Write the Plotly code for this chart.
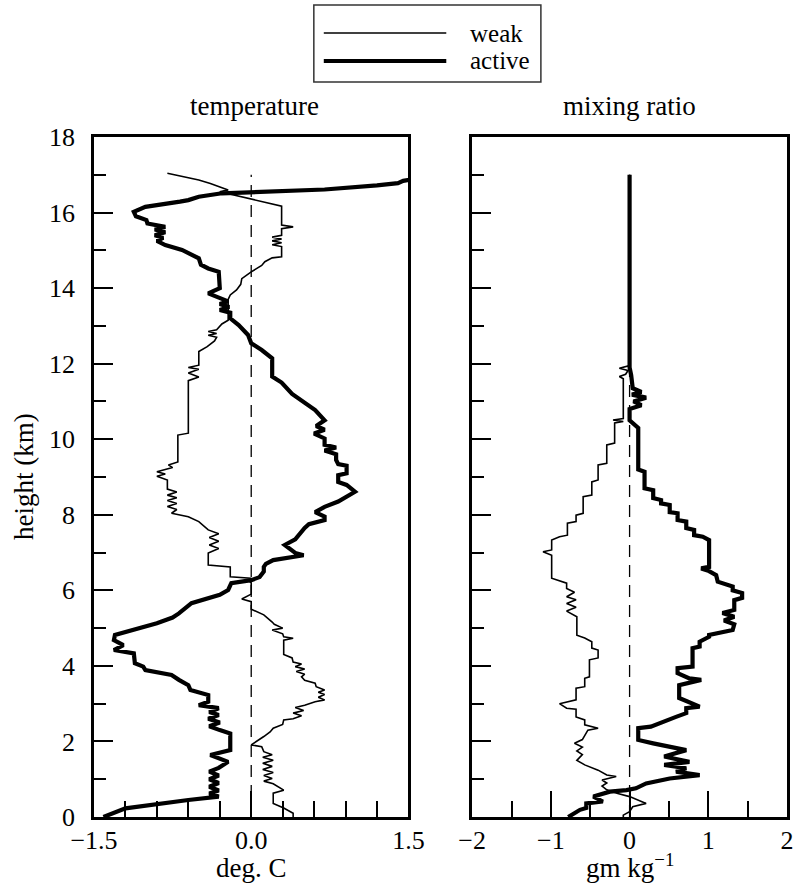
import plotly.graph_objects as go

# ---------------- data ----------------
weak_T_h = [17.04, 16.86, 16.77, 16.68, 16.60, 16.55, 16.38, 16.29, 16.17, 15.67, 15.62, 15.57, 15.40, 15.35, 15.30,
            15.25, 15.20, 15.15, 15.10, 14.83, 14.80, 14.70, 14.60, 14.43, 14.25, 14.10, 13.95, 13.82, 13.70, 13.15,
            13.05, 12.90, 12.85, 12.80, 12.75, 12.70, 12.60, 12.45, 12.32, 12.27, 11.96, 11.90, 11.85, 11.75, 11.65,
            11.55, 11.48, 10.16, 10.11, 9.40, 9.32, 9.25, 9.14, 9.08, 9.02, 8.92, 8.80, 8.68, 8.60, 8.52, 8.45, 8.38,
            8.30, 8.22, 8.14, 8.04, 7.95, 7.82, 7.60, 7.50, 7.40, 7.30, 7.20, 7.11, 6.99, 6.67, 6.62, 6.36, 6.32, 6.27,
            6.20, 5.90, 5.77, 5.70, 5.50, 5.35, 5.16, 5.10, 5.00, 4.95, 4.85, 4.77, 4.73, 4.68, 4.30, 4.21, 4.10, 4.05,
            3.98, 3.92, 3.85, 3.78, 3.71, 3.62, 3.54, 3.45, 3.36, 3.30, 3.24, 3.17, 3.10, 3.05, 2.96, 2.90, 2.82, 2.75,
            2.68, 2.60, 2.57, 2.45, 2.35, 2.25, 2.13, 1.91, 1.86, 1.73, 1.65, 1.58, 1.50, 1.42, 1.34, 1.26, 1.18, 1.10,
            1.02, 0.95, 0.88, 0.71, 0.63, 0.36, 0.24, 0.10, 0.00]
weak_T = [-0.80, -0.50, -0.39, -0.30, -0.22, -0.30, -0.03, 0.10, 0.29, 0.29, 0.40, 0.29, 0.29, 0.20, 0.29,
          0.20, 0.29, 0.20, 0.29, 0.29, 0.20, 0.13, 0.10, 0.00, -0.09, -0.10, -0.14, -0.20, -0.22, -0.22,
          -0.28, -0.33, -0.41, -0.33, -0.41, -0.33, -0.35, -0.42, -0.50, -0.50, -0.50, -0.60, -0.50, -0.60, -0.50,
          -0.60, -0.60, -0.60, -0.70, -0.70, -0.79, -0.75, -0.90, -0.82, -0.90, -0.80, -0.80, -0.80, -0.71, -0.80, -0.71, -0.80,
          -0.71, -0.80, -0.71, -0.76, -0.60, -0.50, -0.41, -0.31, -0.40, -0.31, -0.40, -0.31, -0.41, -0.41, -0.20, -0.20, 0.00, -0.03,
          0.00, 0.00, -0.09, 0.00, 0.00, 0.12, 0.20, 0.22, 0.30, 0.20, 0.30, 0.31, 0.40, 0.31, 0.31, 0.39, 0.40, 0.48,
          0.42, 0.51, 0.43, 0.51, 0.48, 0.51, 0.61, 0.62, 0.70, 0.64, 0.70, 0.64, 0.70, 0.61, 0.51, 0.42, 0.50, 0.40,
          0.48, 0.40, 0.31, 0.30, 0.21, 0.18, 0.12, 0.00, 0.10, 0.12, 0.20, 0.11, 0.21, 0.11, 0.20, 0.11, 0.21, 0.12,
          0.20, 0.12, 0.21, 0.31, 0.21, 0.21, 0.31, 0.40, 0.40]

active_T_h = [16.90, 16.84, 16.78, 16.72, 16.61, 16.55, 16.51, 16.42, 16.33, 16.29, 16.15, 16.02, 15.90, 15.80, 15.71,
              15.62, 15.55, 15.48, 15.40, 15.33, 15.25, 15.14, 15.01, 14.90, 14.79, 14.62, 14.52, 14.43, 14.00, 13.86,
              13.75, 13.65, 13.58, 13.50, 13.42, 13.35, 13.20, 13.02, 12.76, 12.54, 12.36, 12.14, 11.66, 11.50, 11.20,
              10.95, 10.77, 10.50, 10.35, 10.25, 10.15, 10.02, 9.85, 9.78, 9.70, 9.60, 9.45, 9.34, 9.30, 9.10, 9.05,
              8.87, 8.79, 8.61, 8.48, 8.35, 8.21, 8.07, 7.95, 7.86, 7.75, 7.65, 7.35, 7.20, 6.99, 6.93, 6.80, 6.70,
              6.62, 6.50, 6.35, 6.27, 6.19, 6.01, 5.88, 5.66, 5.39, 5.28, 5.13, 4.95, 4.82, 4.68, 4.55, 4.42, 4.33,
              4.07, 3.98, 3.89, 3.76, 3.63, 3.49, 3.36, 3.23, 3.05, 2.96, 2.88, 2.78, 2.70, 2.60, 2.50, 2.40, 2.30,
              2.21, 1.77, 1.64, 1.46, 1.30, 1.20, 1.10, 1.00, 0.90, 0.80, 0.70, 0.62, 0.54, 0.45, 0.36, 0.23, 0.00]
active_T = [1.60, 1.45, 1.40, 1.20, 0.70, 0.07, -0.28, -0.50, -0.60, -0.68, -1.01, -1.12, -1.10, -1.00, -0.99,
            -0.82, -0.92, -0.82, -0.92, -0.84, -0.90, -0.82, -0.66, -0.58, -0.50, -0.48, -0.41, -0.31, -0.30, -0.41,
            -0.30, -0.22, -0.30, -0.21, -0.30, -0.20, -0.20, -0.12, -0.03, 0.00, 0.10, 0.20, 0.20, 0.29, 0.39,
            0.51, 0.61, 0.70, 0.62, 0.70, 0.60, 0.70, 0.70, 0.81, 0.70, 0.81, 0.81, 0.83, 0.91, 0.91, 0.83,
            0.83, 0.91, 0.99, 0.91, 0.83, 0.70, 0.61, 0.70, 0.70, 0.55, 0.51, 0.42, 0.32, 0.42, 0.50, 0.21, 0.14,
            0.12, 0.12, 0.08, 0.00, -0.19, -0.22, -0.30, -0.57, -0.69, -0.75, -0.90, -1.14, -1.30, -1.31, -1.22, -1.31, -1.12,
            -1.11, -1.03, -1.01, -0.76, -0.69, -0.60, -0.58, -0.41, -0.41, -0.50, -0.31, -0.40, -0.31, -0.41, -0.30, -0.40, -0.30,
            -0.20, -0.20, -0.39, -0.22, -0.31, -0.40, -0.31, -0.40, -0.31, -0.40, -0.31, -0.40, -0.31, -0.60, -0.88, -1.20, -1.41]

weak_q_h = [17.00, 12.00, 11.95, 11.88, 11.82, 11.72, 11.66, 11.60, 10.55, 10.51, 10.47, 10.43, 9.90, 9.85, 9.36,
            9.32, 8.92, 8.87, 8.52, 8.48, 8.04, 7.99, 7.82, 7.78, 7.46, 7.42, 7.33, 7.07, 7.02, 6.93, 6.32, 6.19,
            6.05, 5.95, 5.83, 5.75, 5.65, 5.55, 5.45, 5.30, 4.81, 4.74, 4.64, 4.47, 4.42, 4.21, 4.16, 3.71, 3.67,
            3.45, 3.41, 3.10, 3.00, 2.88, 2.85, 2.65, 2.57, 2.44, 2.35, 2.30, 2.17, 2.05, 1.95, 1.85, 1.75, 1.65,
            1.50, 1.38, 1.24, 1.11, 1.07, 0.98, 0.90, 0.82, 0.72, 0.62, 0.54, 0.36, 0.27, 0.14, 0.05, 0.00]
weak_q = [0.00, 0.00, 0.00, -0.13, -0.02, -0.05, -0.13, -0.08, -0.08, -0.21, -0.08, -0.19, -0.19, -0.29, -0.29,
          -0.40, -0.40, -0.48, -0.48, -0.59, -0.59, -0.68, -0.68, -0.79, -0.79, -0.89, -0.99, -0.99, -1.10, -0.99, -0.99, -0.80,
          -0.80, -0.70, -0.80, -0.68, -0.80, -0.68, -0.80, -0.67, -0.67, -0.57, -0.48, -0.48, -0.40, -0.40, -0.51, -0.51, -0.57,
          -0.57, -0.68, -0.68, -0.89, -0.80, -0.68, -0.68, -0.57, -0.57, -0.40, -0.53, -0.57, -0.60, -0.70, -0.60, -0.67, -0.60,
          -0.67, -0.57, -0.40, -0.29, -0.17, -0.35, -0.29, -0.35, -0.29, -0.15, 0.00, 0.21, 0.04, 0.00, -0.08, -0.08]

active_q_h = [17.00, 11.90, 11.70, 11.35, 11.25, 11.18, 11.10, 11.00, 10.90, 10.80, 10.50, 10.30, 9.20, 9.14, 8.70,
              8.65, 8.44, 8.39, 8.30, 8.26, 8.07, 8.04, 7.86, 7.82, 7.65, 7.60, 7.46, 7.42, 7.33, 6.62, 6.58, 6.51,
              6.40, 6.23, 6.10, 6.00, 5.93, 5.80, 5.74, 5.48, 5.40, 5.30, 5.20, 5.10, 4.95, 4.82, 4.77, 4.64, 4.51,
              4.47, 3.98, 3.94, 3.81, 3.67, 3.63, 3.49, 3.15, 3.05, 2.92, 2.88, 2.75, 2.65, 2.49, 2.39, 2.35, 2.04,
              1.95, 1.86, 1.77, 1.60, 1.46, 1.38, 1.29, 1.20, 1.11, 1.02, 0.89, 0.76, 0.71, 0.67, 0.54, 0.41, 0.36,
              0.24, 0.19, 0.00]
active_q = [0.00, 0.00, 0.02, 0.04, 0.15, 0.03, 0.21, 0.05, 0.15, 0.00, 0.00, 0.11, 0.11, 0.19, 0.19,
            0.30, 0.30, 0.40, 0.40, 0.51, 0.51, 0.61, 0.61, 0.72, 0.72, 0.82, 0.82, 0.93, 1.01, 1.01, 0.91, 1.01,
            1.10, 1.12, 1.31, 1.31, 1.43, 1.43, 1.33, 1.33, 1.18, 1.33, 1.20, 1.33, 1.31, 1.01, 1.01, 0.89, 0.89,
            0.80, 0.80, 0.61, 0.61, 0.76, 0.91, 0.63, 0.63, 0.74, 0.89, 0.72, 0.72, 0.59, 0.40, 0.27, 0.11, 0.11,
            0.30, 0.50, 0.72, 0.44, 0.76, 0.44, 0.72, 0.59, 0.89, 0.51, 0.21, 0.08, -0.04, -0.25, -0.46, -0.34, -0.55,
            -0.55, -0.63, -0.78]

zero_line_h = [0, 17]

T_ticks = [-1.5, 0.0, 1.5]
T_ticktext = ["\u22121.5", "0.0", "1.5"]
q_ticks = [-2, -1, 0, 1, 2]
q_ticktext = ["\u22122", "\u22121", "0", "1", "2"]
h_ticks = list(range(0, 19, 2))

# ---------------- figure ----------------
# horizontal compensation: the photographed page shows ~0.981 horizontal scale
KX = 810 / 795
W, H = 810, 883


def sx(x):
    return x * KX


L, R, T, B = round(sx(92)), round(W - sx(788)), 137, 66
PW, PH = W - L - R, H - T - B
FONT = "Liberation Serif, Times New Roman, Times, serif"


def px(x):
    return (sx(x) - L) / PW


def py(y):
    return (H - B - y) / PH


fig = go.Figure()
thin = dict(color="black", width=1.6)
thick = dict(color="black", width=4.2)
dash = dict(color="black", width=1.3, dash="12px,8px")

fig.add_trace(go.Scatter(x=[0, 0], y=zero_line_h, mode="lines", line=dash, xaxis="x", yaxis="y"))
fig.add_trace(go.Scatter(x=weak_T, y=weak_T_h, mode="lines", line=thin, xaxis="x", yaxis="y"))
fig.add_trace(go.Scatter(x=active_T, y=active_T_h, mode="lines", line=thick, xaxis="x", yaxis="y"))

fig.add_trace(go.Scatter(x=[0, 0], y=zero_line_h, mode="lines", line=dash, xaxis="x2", yaxis="y2"))
fig.add_trace(go.Scatter(x=weak_q, y=weak_q_h, mode="lines", line=thin, xaxis="x2", yaxis="y2"))
fig.add_trace(go.Scatter(x=active_q, y=active_q_h, mode="lines", line=thick, xaxis="x2", yaxis="y2"))

tickfont = dict(family=FONT, size=26, color="black")
common_x = dict(showgrid=False, zeroline=False, showline=True, linecolor="black", linewidth=2.5, mirror=True,
                ticks="inside", ticklen=26, tickwidth=2.2, tickcolor="black", tickfont=tickfont,
                ticklabelstandoff=-2)
common_y = dict(showgrid=False, zeroline=False, showline=True, linecolor="black", linewidth=2.5, mirror=True,
                ticks="inside", ticklen=19, tickwidth=2.2, tickcolor="black", tickfont=tickfont,
                range=[0, 18], tickvals=h_ticks,
                minor=dict(dtick=1, tick0=0, ticks="inside", ticklen=12, tickwidth=1.5, tickcolor="black"))

split_l = px(408)
split_r = px(472)

fig.update_layout(
    width=W, height=H, margin=dict(l=L, r=R, t=T, b=B), autosize=False,
    paper_bgcolor="white", plot_bgcolor="white", showlegend=False,
    font=dict(family=FONT, size=26, color="black"),
    xaxis=dict(common_x, domain=[0, split_l], range=[-1.5, 1.5], tickvals=T_ticks, ticktext=T_ticktext,
               minor=dict(dtick=0.3, tick0=0, ticks="inside", ticklen=16, tickwidth=1.5, tickcolor="black"),
               anchor="y"),
    yaxis=dict(common_y, domain=[0, 1], anchor="x", ticklabelstandoff=11),
    xaxis2=dict(common_x, domain=[split_r, 1], range=[-2, 2], tickvals=q_ticks, ticktext=q_ticktext,
                minor=dict(dtick=0.5, tick0=0, ticks="inside", ticklen=16, tickwidth=1.5, tickcolor="black"),
                anchor="y2"),
    yaxis2=dict(common_y, domain=[0, 1], anchor="x2", showticklabels=False),
)

ann = dict(xref="paper", yref="paper", showarrow=False, font=dict(family=FONT, size=27, color="black"))
fig.add_annotation(ann, x=px(253), y=py(106), text="temperature", xanchor="center", yanchor="middle")
fig.add_annotation(ann, x=px(630), y=py(106), text="mixing ratio", xanchor="center", yanchor="middle")
fig.add_annotation(ann, x=px(250), y=py(868), text="deg. C", xanchor="center", yanchor="middle")
fig.add_annotation(ann, x=px(630), y=py(866), text="gm kg<sup>\u22121</sup>", xanchor="center", yanchor="middle")
fig.add_annotation(ann, x=px(22), y=py(477), text="height (km)", xanchor="center", yanchor="middle", textangle=-90)

# legend box
fig.add_shape(type="rect", xref="paper", yref="paper", x0=px(313), x1=px(541), y0=py(82), y1=py(5),
              line=dict(color="#333333", width=1.5), fillcolor="white")
fig.add_shape(type="line", xref="paper", yref="paper", x0=px(323), x1=px(446), y0=py(33), y1=py(33),
              line=dict(color="black", width=1.6))
fig.add_shape(type="line", xref="paper", yref="paper", x0=px(323), x1=px(446), y0=py(61), y1=py(61),
              line=dict(color="black", width=4.2))
leg_font = dict(family=FONT, size=25, color="black")
fig.add_annotation(ann, x=px(468), y=py(33), text="weak", xanchor="left", yanchor="middle", font=leg_font)
fig.add_annotation(ann, x=px(468), y=py(61), text="active", xanchor="left", yanchor="middle", font=leg_font)

fig.write_html("out.html", config={"responsive": False})
